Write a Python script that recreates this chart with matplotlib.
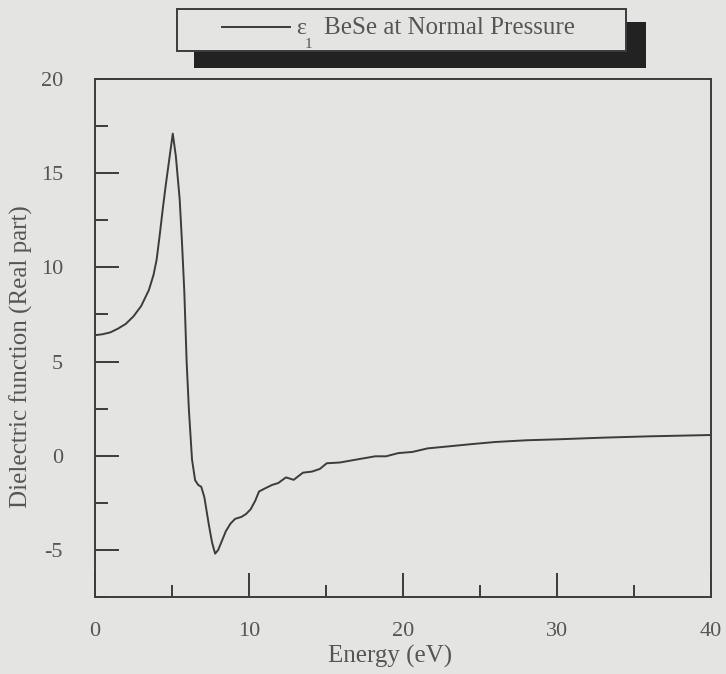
'''
real part of the dielectric function of BeSe at normal pressure
'''
import matplotlib
matplotlib.use('Agg')
import matplotlib.pyplot as plt
from matplotlib.patches import Rectangle
from matplotlib.ticker import MultipleLocator

# data
energy = [0, 0.5, 1.0, 1.5, 2.0, 2.5, 3.0, 3.5, 3.8, 4.0, 4.2, 4.4, 4.6, 4.8, 5.05,
          5.25, 5.5, 5.65, 5.8, 5.95, 6.1, 6.3, 6.5, 6.7, 6.9, 7.1, 7.4, 7.6, 7.8,
          8.0, 8.2, 8.5, 8.8, 9.1, 9.5, 9.8, 10.1, 10.4, 10.65, 11.0, 11.5, 11.9,
          12.4, 12.9, 13.5, 14.1, 14.6, 15.05, 15.9, 17.0, 18.2, 18.9, 19.7, 20.6,
          21.6, 23.0, 24.5, 26.0, 28.0, 30.0, 33.0, 36.0, 40.0]
eps1 = [6.4, 6.45, 6.55, 6.75, 7.0, 7.4, 7.95, 8.8, 9.6, 10.4, 11.7, 13.1, 14.4, 15.6, 17.1,
        15.9, 13.6, 11.3, 8.7, 5.0, 2.4, -0.2, -1.3, -1.55, -1.65, -2.2, -3.7, -4.6, -5.2,
        -5.0, -4.6, -4.0, -3.6, -3.35, -3.25, -3.1, -2.85, -2.4, -1.9, -1.75, -1.55, -1.45,
        -1.15, -1.28, -0.9, -0.84, -0.7, -0.4, -0.36, -0.2, -0.03, -0.03, 0.14, 0.2,
        0.39, 0.5, 0.62, 0.73, 0.82, 0.87, 0.96, 1.03, 1.1]
x_ticks = [0, 10, 20, 30, 40]
y_ticks = [-5, 0, 5, 10, 15, 20]
legend_label = 'BeSe at Normal Pressure'

bg = '#e4e4e2'
ink = '#3c3c3c'
txt = '#555555'
font = 'Liberation Serif'
plt.rcParams['axes.unicode_minus'] = False

fig = plt.figure(figsize=(7.26, 6.74), dpi=100, facecolor=bg)
ax = fig.add_axes([95 / 726, 1 - 597 / 674, 616 / 726, 518 / 674])
ax.set_facecolor(bg)
ax.plot(energy, eps1, color=ink, lw=1.4)

ax.set_xlim(0, 40)
ax.set_ylim(-7.5, 20)
ax.set_xticks(x_ticks)
ax.set_yticks(y_ticks)
ax.xaxis.set_minor_locator(MultipleLocator(5))
ax.yaxis.set_minor_locator(MultipleLocator(2.5))
ax.tick_params(which='both', direction='in', color=ink, width=1.4,
               top=False, right=False, labelcolor=txt, labelsize=16)
ax.tick_params(which='major', length=17)
ax.tick_params(which='minor', length=9)
ax.tick_params(axis='x', pad=18)
ax.tick_params(axis='y', pad=23)
for lbl in ax.get_xticklabels() + ax.get_yticklabels():
    lbl.set_fontfamily(font)
for sp in ax.spines.values():
    sp.set_color(ink)
    sp.set_linewidth(1.4)

ax.set_xlabel('Energy (eV)', fontsize=18, family=font, color=txt)
ax.set_ylabel('Dielectric function (Real part)', fontsize=18, family=font, color=txt)
ax.xaxis.set_label_coords(0.479, -0.093)
ax.yaxis.set_label_coords(-0.101, 0.465)

# legend box with drop shadow, in pixel coords of the figure
def px(x, y):
    return x / 726, 1 - y / 674

tr = fig.transFigure
fig.patches.append(Rectangle(px(194, 68), 452 / 726, 46 / 674, transform=tr,
                             facecolor='#222222', edgecolor='none', zorder=1))
fig.patches.append(Rectangle(px(177, 51), 449 / 726, 42 / 674, transform=tr,
                             facecolor=bg, edgecolor=ink, lw=1.4, zorder=2))
fig.lines.append(plt.Line2D([222 / 726, 290 / 726], [1 - 27 / 674] * 2,
                            transform=tr, color=ink, lw=1.4, zorder=3))
fig.text(*px(296, 34.5), 'ε', family=font, fontsize=17, color=txt,
         va='baseline', zorder=4)
fig.text(*px(305, 48), '1', family=font, fontsize=11, color=txt,
         va='baseline', zorder=4)
fig.text(*px(324, 34.5), legend_label, family=font, fontsize=18,
         color=txt, va='baseline', zorder=4)

fig.savefig('out.png', dpi=100, facecolor=bg)
